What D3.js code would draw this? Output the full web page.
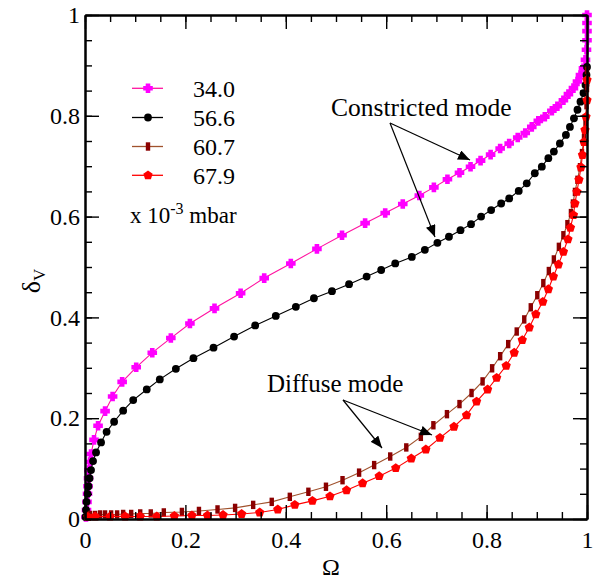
<!DOCTYPE html>
<html><head><meta charset="utf-8">
<script src="https://cdn.jsdelivr.net/npm/d3@7"></script>
<style>body{margin:0;background:#fff}svg{display:block}</style>
</head><body>
<svg id="c" width="601" height="581"></svg>
<script>
// ---------- DATA ----------
const seriesNames = ["34.0", "56.6", "60.7", "67.9"];

const omega34 = [0.002,0.003,0.004,0.005,0.006,0.007,0.008,0.010,0.012,0.018,0.026,0.040,0.055,0.074,0.102,0.134,0.171,0.209,0.258,0.310,0.357,0.410,0.462,0.512,0.558,0.598,0.633,0.666,0.695,0.722,0.746,0.768,0.788,0.808,0.827,0.845,0.862,0.877,0.890,0.903,0.916,0.930,0.941,0.953,0.963,0.973,0.981,0.987,0.993,0.997,0.999,1.000,1.000,1.000,1.000];
const delta34 = [0.004,0.018,0.034,0.050,0.065,0.081,0.097,0.113,0.129,0.157,0.185,0.214,0.243,0.272,0.301,0.330,0.359,0.388,0.418,0.448,0.478,0.507,0.536,0.563,0.587,0.607,0.625,0.642,0.658,0.674,0.687,0.699,0.711,0.723,0.735,0.745,0.757,0.766,0.778,0.790,0.798,0.810,0.819,0.831,0.843,0.855,0.868,0.881,0.894,0.911,0.931,0.950,0.968,0.984,1.000];

const omega566 = [0.001,0.002,0.003,0.005,0.007,0.009,0.012,0.016,0.022,0.032,0.043,0.058,0.076,0.096,0.123,0.149,0.181,0.216,0.256,0.297,0.339,0.380,0.420,0.456,0.492,0.526,0.561,0.590,0.618,0.651,0.677,0.702,0.725,0.748,0.769,0.789,0.809,0.829,0.845,0.864,0.880,0.896,0.910,0.923,0.934,0.946,0.958,0.966,0.974,0.981,0.987,0.993,0.997,0.999,1.000];
const delta566 = [0.004,0.018,0.034,0.050,0.065,0.081,0.097,0.115,0.132,0.152,0.173,0.193,0.215,0.236,0.257,0.277,0.298,0.319,0.340,0.362,0.384,0.403,0.421,0.438,0.452,0.466,0.481,0.494,0.507,0.520,0.534,0.548,0.560,0.573,0.585,0.600,0.613,0.626,0.636,0.651,0.666,0.686,0.699,0.716,0.729,0.745,0.762,0.778,0.795,0.812,0.828,0.845,0.861,0.881,0.897];

const omega607 = [0.004,0.010,0.020,0.030,0.040,0.052,0.064,0.076,0.092,0.110,0.131,0.157,0.193,0.227,0.264,0.299,0.335,0.372,0.408,0.445,0.480,0.513,0.546,0.576,0.608,0.640,0.669,0.694,0.721,0.746,0.770,0.792,0.811,0.827,0.843,0.860,0.875,0.888,0.901,0.913,0.924,0.934,0.944,0.953,0.961,0.968,0.972,0.976,0.981,0.986,0.990,0.994,0.997,0.999,1.000,1.000];
const delta607 = [0.006,0.008,0.008,0.009,0.009,0.009,0.009,0.010,0.010,0.011,0.011,0.013,0.014,0.016,0.019,0.022,0.028,0.034,0.044,0.054,0.064,0.077,0.092,0.107,0.124,0.142,0.163,0.186,0.208,0.228,0.250,0.273,0.299,0.323,0.347,0.372,0.396,0.420,0.444,0.468,0.492,0.515,0.540,0.563,0.585,0.607,0.626,0.649,0.673,0.698,0.726,0.756,0.788,0.821,0.855,0.891];

const omega679 = [0.006,0.020,0.050,0.080,0.110,0.143,0.178,0.213,0.244,0.275,0.312,0.348,0.384,0.418,0.453,0.488,0.521,0.553,0.586,0.619,0.650,0.679,0.707,0.735,0.760,0.780,0.802,0.820,0.839,0.855,0.871,0.885,0.898,0.912,0.923,0.933,0.943,0.953,0.962,0.967,0.973,0.976,0.980,0.984,0.988,0.991,0.994,0.996,0.998,1.000,1.000];
const delta679 = [0.004,0.005,0.005,0.005,0.005,0.005,0.006,0.007,0.007,0.008,0.010,0.013,0.019,0.028,0.036,0.045,0.057,0.071,0.085,0.101,0.120,0.138,0.161,0.183,0.206,0.233,0.257,0.280,0.304,0.330,0.355,0.380,0.406,0.431,0.456,0.481,0.505,0.530,0.555,0.578,0.603,0.626,0.649,0.673,0.698,0.722,0.748,0.772,0.798,0.831,0.871];

const xTickValues = [0, 0.2, 0.4, 0.6, 0.8, 1];
const xTickLabels = ["0", "0.2", "0.4", "0.6", "0.8", "1"];
const yTickValues = [0, 0.2, 0.4, 0.6, 0.8, 1];
const yTickLabels = ["0", "0.2", "0.4", "0.6", "0.8", "1"];
const minorTickValues = d3.range(0, 21).map(i => i / 20);

const xTitle = "Ω";
const yTitleMain = "δ";
const yTitleSub = "V";
const unitText = ["x 10", "-3", " mbar"];
const annoConstricted = "Constricted mode";
const annoDiffuse = "Diffuse mode";

// ---------- LAYOUT ----------
const L = 85, R = 587, T = 15, B = 519;
const FONT = "'Liberation Serif','Times New Roman',serif";
const svg = d3.select("#c");
const x = d3.scaleLinear().domain([0, 1]).range([L, R]);
const y = d3.scaleLinear().domain([0, 1]).range([B, T]);

// ---------- SYMBOLS ----------
function drawMarker(g, kind, cx, cy) {
  if (kind === "cross") {
    const a = 4.8, w = 2.3;
    g.append("path").attr("d",
      `M${cx-w},${cy-a}H${cx+w}V${cy-w}H${cx+a}V${cy+w}H${cx+w}V${cy+a}H${cx-w}V${cy+w}H${cx-a}V${cy-w}H${cx-w}Z`)
      .attr("fill", "#ff00ff");
  } else if (kind === "circle") {
    g.append("circle").attr("cx", cx).attr("cy", cy).attr("r", 3.9).attr("fill", "#000");
  } else if (kind === "rect") {
    g.append("rect").attr("x", cx - 2.2).attr("y", cy - 4.2).attr("width", 4.4).attr("height", 8.4).attr("fill", "#8b0000");
  } else if (kind === "pent") {
    const r = 4.9;
    const pts = d3.range(5).map(i => {
      const ang = -Math.PI / 2 + i * 2 * Math.PI / 5;
      return [cx + r * Math.cos(ang), cy + r * Math.sin(ang)];
    });
    g.append("polygon").attr("points", pts.map(p => p.join(",")).join(" ")).attr("fill", "#ff0000");
  }
}

const series = [
  { name: seriesNames[0], xs: omega34, ys: delta34, line: "#ff14a0", kind: "cross" },
  { name: seriesNames[1], xs: omega566, ys: delta566, line: "#000000", kind: "circle" },
  { name: seriesNames[2], xs: omega607, ys: delta607, line: "#a0522d", kind: "rect" },
  { name: seriesNames[3], xs: omega679, ys: delta679, line: "#ff0000", kind: "pent" }
];

// ---------- SERIES ----------
const lineGen = d3.line().x(d => x(d[0])).y(d => y(d[1]));
series.forEach(s => {
  const pts = s.xs.map((v, i) => [v, s.ys[i]]);
  const g = svg.append("g");
  g.append("path").attr("d", lineGen(pts)).attr("fill", "none").attr("stroke", s.line).attr("stroke-width", 1.1);
  pts.forEach(p => drawMarker(g, s.kind, x(p[0]), y(p[1])));
});

// ---------- AXES ----------
function styleAxis(g) {
  g.attr("font-family", FONT).attr("font-size", 24);
  g.selectAll(".domain").attr("stroke", "#000").attr("stroke-width", 2);
  g.selectAll(".tick line").attr("stroke", "#000").attr("stroke-width", 1.4);
  g.selectAll("text").style("font-family", FONT).style("font-size", "24px").attr("fill", "#000");
}
// bottom
svg.append("g").attr("transform", `translate(0,${B})`)
  .call(d3.axisBottom(x).tickValues(minorTickValues).tickSizeInner(-7).tickSizeOuter(0).tickFormat(""))
  .call(styleAxis);
svg.append("g").attr("transform", `translate(0,${B})`)
  .call(d3.axisBottom(x).tickValues(xTickValues).tickSizeInner(-14).tickSizeOuter(0).tickPadding(12)
    .tickFormat((d, i) => xTickLabels[i]))
  .call(styleAxis);
// top
svg.append("g").attr("transform", `translate(0,${T})`)
  .call(d3.axisTop(x).tickValues(minorTickValues).tickSizeInner(-7).tickSizeOuter(0).tickFormat(""))
  .call(styleAxis);
svg.append("g").attr("transform", `translate(0,${T})`)
  .call(d3.axisTop(x).tickValues(xTickValues).tickSizeInner(-14).tickSizeOuter(0).tickFormat(""))
  .call(styleAxis);
// left
svg.append("g").attr("transform", `translate(${L},0)`)
  .call(d3.axisLeft(y).tickValues(minorTickValues).tickSizeInner(-7).tickSizeOuter(0).tickFormat(""))
  .call(styleAxis);
svg.append("g").attr("transform", `translate(${L},0)`)
  .call(d3.axisLeft(y).tickValues(yTickValues).tickSizeInner(-14).tickSizeOuter(0).tickPadding(5)
    .tickFormat((d, i) => yTickLabels[i]))
  .call(styleAxis);
// right
svg.append("g").attr("transform", `translate(${R},0)`)
  .call(d3.axisRight(y).tickValues(minorTickValues).tickSizeInner(-7).tickSizeOuter(0).tickFormat(""))
  .call(styleAxis);
svg.append("g").attr("transform", `translate(${R},0)`)
  .call(d3.axisRight(y).tickValues(yTickValues).tickSizeInner(-14).tickSizeOuter(0).tickFormat(""))
  .call(styleAxis);

// ---------- TITLES ----------
svg.append("text").attr("x", (L + R) / 2 - 5).attr("y", 575).attr("text-anchor", "middle")
  .attr("font-family", FONT).attr("font-size", 24).text(xTitle);
const yt = svg.append("text").attr("transform", "translate(40,281) rotate(-90)")
  .attr("text-anchor", "middle").attr("font-family", FONT).attr("font-size", 26);
yt.append("tspan").text(yTitleMain);
yt.append("tspan").attr("dy", 5).attr("font-size", 17).text(yTitleSub);

// ---------- LEGEND ----------
const legY = [88.3, 117.5, 146.5, 175.3];
series.forEach((s, i) => {
  const g = svg.append("g");
  g.append("line").attr("x1", 132).attr("x2", 163).attr("y1", legY[i]).attr("y2", legY[i])
    .attr("stroke", s.line).attr("stroke-width", 1.3);
  drawMarker(g, s.kind, 148, legY[i]);
  g.append("text").attr("x", 193).attr("y", legY[i] + 8.5).attr("font-family", FONT).attr("font-size", 24).text(s.name);
});
const ut = svg.append("text").attr("x", 130).attr("y", 223).attr("font-family", FONT).attr("font-size", 23);
ut.append("tspan").text(unitText[0]);
ut.append("tspan").attr("dy", -9).attr("font-size", 16).text(unitText[1]);
ut.append("tspan").attr("dy", 9).text(unitText[2]);

// ---------- ANNOTATIONS ----------
const defs = svg.append("defs");
defs.append("marker").attr("id", "ah").attr("viewBox", "0 0 12 10").attr("refX", 12).attr("refY", 5)
  .attr("markerWidth", 12).attr("markerHeight", 10).attr("markerUnits", "userSpaceOnUse")
  .attr("orient", "auto").append("path").attr("d", "M0,0L12,5L0,10Z").attr("fill", "#000");

function arrow(x1, y1, x2, y2) {
  svg.append("line").attr("x1", x1).attr("y1", y1).attr("x2", x2).attr("y2", y2)
    .attr("stroke", "#000").attr("stroke-width", 1.2).attr("marker-end", "url(#ah)");
}
svg.append("text").attr("x", 331).attr("y", 116).attr("font-family", FONT).attr("font-size", 25.5).text(annoConstricted);
arrow(390, 123, 470, 160);
arrow(390, 123, 435, 237);
svg.append("text").attr("x", 267).attr("y", 392).attr("font-family", FONT).attr("font-size", 25).text(annoDiffuse);
arrow(343, 400, 382, 448);
arrow(343, 400, 432, 435);
</script>
</body></html>
